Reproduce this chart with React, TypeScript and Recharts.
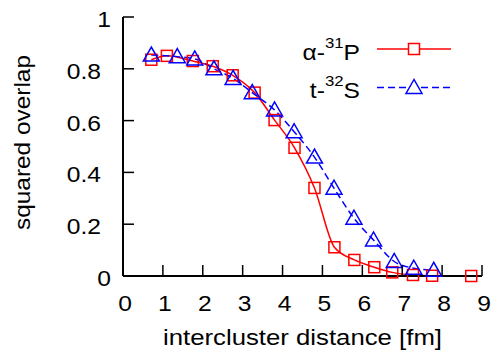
import React from "react";
import { LineChart, Line, XAxis, YAxis, Legend } from "recharts";

// values
const alphaDist = [0.71, 1.1, 1.75, 2.25, 2.75, 3.3, 3.8, 4.3, 4.8, 5.3, 5.8, 6.3, 6.75, 7.27, 7.75, 8.73];
const alphaOverlap = [0.835, 0.85, 0.83, 0.81, 0.775, 0.708, 0.602, 0.495, 0.34, 0.111, 0.062, 0.034, 0.014, 0.004, 0.001, 0.0];

const tritonDist = [0.71, 1.36, 1.8, 2.28, 2.76, 3.24, 3.8, 4.29, 4.8, 5.29, 5.79, 6.28, 6.8, 7.29, 7.79];
const tritonOverlap = [0.853, 0.847, 0.838, 0.8, 0.763, 0.708, 0.641, 0.557, 0.459, 0.339, 0.223, 0.139, 0.056, 0.03, 0.022];

const xTicks = [0, 1, 2, 3, 4, 5, 6, 7, 8, 9];
const yTicks = [0, 0.2, 0.4, 0.6, 0.8, 1];

const RED = "#ff0000";
const BLUE = "#0000ff";
const FONT = "'Liberation Sans', Arial, sans-serif";
const SX = 1.12; // reference text is a bit wider than plain Arial
const TICK = 11;

const alphaData = alphaDist.map((x, i) => ({ x, y: alphaOverlap[i] }));
const tritonData = tritonDist.map((x, i) => ({ x, y: tritonOverlap[i] }));

function BottomTick({ x, y, payload }: any) {
  return (
    <g>
      <line x1={x} x2={x} y1={y} y2={y - TICK} stroke="#000" strokeWidth={1.5} />
      <text
        transform={`translate(${x + 2},${y + 35}) scale(${SX},1)`}
        textAnchor="middle"
        fontSize={22}
        fontFamily={FONT}
        fill="#000"
      >
        {payload.value}
      </text>
    </g>
  );
}

function LeftTick({ x, y, payload }: any) {
  const v = payload.value;
  const isInt = v === 0 || v === 1;
  return (
    <g>
      <line x1={x} x2={x + TICK} y1={y} y2={y} stroke="#000" strokeWidth={1.5} />
      <text
        transform={`translate(${x - (isInt ? 12 : 22)},${y + 10}) scale(${SX},1)`}
        textAnchor="end"
        fontSize={22}
        fontFamily={FONT}
        fill="#000"
      >
        {String(v)}
      </text>
    </g>
  );
}

function TopTick({ x, y }: any) {
  return <line x1={x} x2={x} y1={y} y2={y + TICK} stroke="#000" strokeWidth={1.5} />;
}

function RightTick({ x, y }: any) {
  return <line x1={x} x2={x - TICK} y1={y} y2={y} stroke="#000" strokeWidth={1.5} />;
}

function SquareDot({ cx, cy, index }: any) {
  if (cx == null || cy == null) return <g key={`sq-${index}`} />;
  return (
    <rect
      key={`sq-${index}`}
      x={cx - 5.5}
      y={cy - 5.5}
      width={11}
      height={11}
      fill="none"
      stroke={RED}
      strokeWidth={1.5}
    />
  );
}

function TriangleDot({ cx, cy, index }: any) {
  if (cx == null || cy == null) return <g key={`tr-${index}`} />;
  return (
    <polygon
      key={`tr-${index}`}
      points={`${cx},${cy - 8} ${cx - 8},${cy + 6} ${cx + 8},${cy + 6}`}
      fill="none"
      stroke={BLUE}
      strokeWidth={1.5}
    />
  );
}

function LegendBox() {
  return (
    <svg width={200} height={90} style={{ display: "block" }}>
      <g fontFamily={FONT} fill="#000">
        <text transform={`translate(70,40) scale(${SX},1)`} textAnchor="end" fontSize={22}>
          α-<tspan fontSize={15} dy={-12}>31</tspan>
          <tspan fontSize={22} dy={12}>P</tspan>
        </text>
        <text transform={`translate(70,78) scale(${SX},1)`} textAnchor="end" fontSize={22}>
          t-<tspan fontSize={15} dy={-12}>32</tspan>
          <tspan fontSize={22} dy={12}>S</tspan>
        </text>
      </g>
      <line x1={87} x2={161} y1={29} y2={29} stroke={RED} strokeWidth={1.5} />
      <rect x={118.5} y={23.5} width={11} height={11} fill="#fff" stroke={RED} strokeWidth={1.5} />
      <line x1={87} x2={161} y1={67.5} y2={67.5} stroke={BLUE} strokeWidth={1.5} strokeDasharray="7 4" />
      <polygon points="124,59.5 116,73.5 132,73.5" fill="#fff" stroke={BLUE} strokeWidth={1.5} />
    </svg>
  );
}

export default function App() {
  return (
    <div style={{ position: "absolute", left: 0, top: 0, width: 494, height: 353, background: "#fff" }}>
      <LineChart width={494} height={353} margin={{ top: 17, right: 12, bottom: 37, left: 63 }}>
        <XAxis
          xAxisId="bottom"
          type="number"
          dataKey="x"
          domain={[0, 9]}
          ticks={xTicks}
          orientation="bottom"
          height={40}
          tickSize={0}
          tickMargin={0}
          tickLine={false}
          axisLine={{ stroke: "#000", strokeWidth: 2 }}
          tick={BottomTick}
          label={{
            content: ({ viewBox }: any) => (
              <text
                x={viewBox.x + viewBox.width / 2}
                y={345}
                textAnchor="middle"
                fontSize={22}
                fontFamily={FONT}
                fill="#000"
                textLength={279}
                lengthAdjust="spacingAndGlyphs"
              >
                intercluster distance [fm]
              </text>
            ),
          }}
        />
        <XAxis
          xAxisId="top"
          type="number"
          dataKey="x"
          domain={[0, 9]}
          ticks={xTicks}
          orientation="top"
          height={0}
          tickSize={0}
          tickMargin={0}
          tickLine={false}
          axisLine={{ stroke: "#000", strokeWidth: 2 }}
          tick={TopTick}
        />
        <YAxis
          yAxisId="left"
          type="number"
          domain={[0, 1]}
          ticks={yTicks}
          width={60}
          tickSize={0}
          tickMargin={0}
          tickLine={false}
          axisLine={{ stroke: "#000", strokeWidth: 2 }}
          tick={LeftTick}
          label={{
            content: ({ viewBox }: any) => (
              <text
                transform={`translate(${viewBox.x - 41},${viewBox.y + viewBox.height / 2 - 4}) rotate(-90)`}
                textAnchor="middle"
                dominantBaseline="central"
                fontSize={22}
                fontFamily={FONT}
                fill="#000"
                textLength={175}
                lengthAdjust="spacingAndGlyphs"
              >
                squared overlap
              </text>
            ),
          }}
        />
        <YAxis
          yAxisId="right"
          orientation="right"
          type="number"
          domain={[0, 1]}
          ticks={yTicks}
          width={0}
          tickSize={0}
          tickMargin={0}
          tickLine={false}
          axisLine={{ stroke: "#000", strokeWidth: 2 }}
          tick={RightTick}
        />
        <Legend
          layout="horizontal"
          verticalAlign="middle"
          align="center"
          content={() => <LegendBox />}
          wrapperStyle={{ left: 290, top: 20, width: 200, height: 90 }}
        />
        <Line
          data={alphaData}
          dataKey="y"
          name="alpha-31P"
          xAxisId="bottom"
          yAxisId="left"
          type="monotone"
          stroke={RED}
          strokeWidth={1.5}
          dot={SquareDot}
          activeDot={false}
          isAnimationActive={false}
        />
        <Line
          data={tritonData}
          dataKey="y"
          name="t-32S"
          xAxisId="bottom"
          yAxisId="left"
          type="monotone"
          stroke={BLUE}
          strokeWidth={1.5}
          strokeDasharray="7 4"
          dot={TriangleDot}
          activeDot={false}
          isAnimationActive={false}
        />
      </LineChart>
    </div>
  );
}
